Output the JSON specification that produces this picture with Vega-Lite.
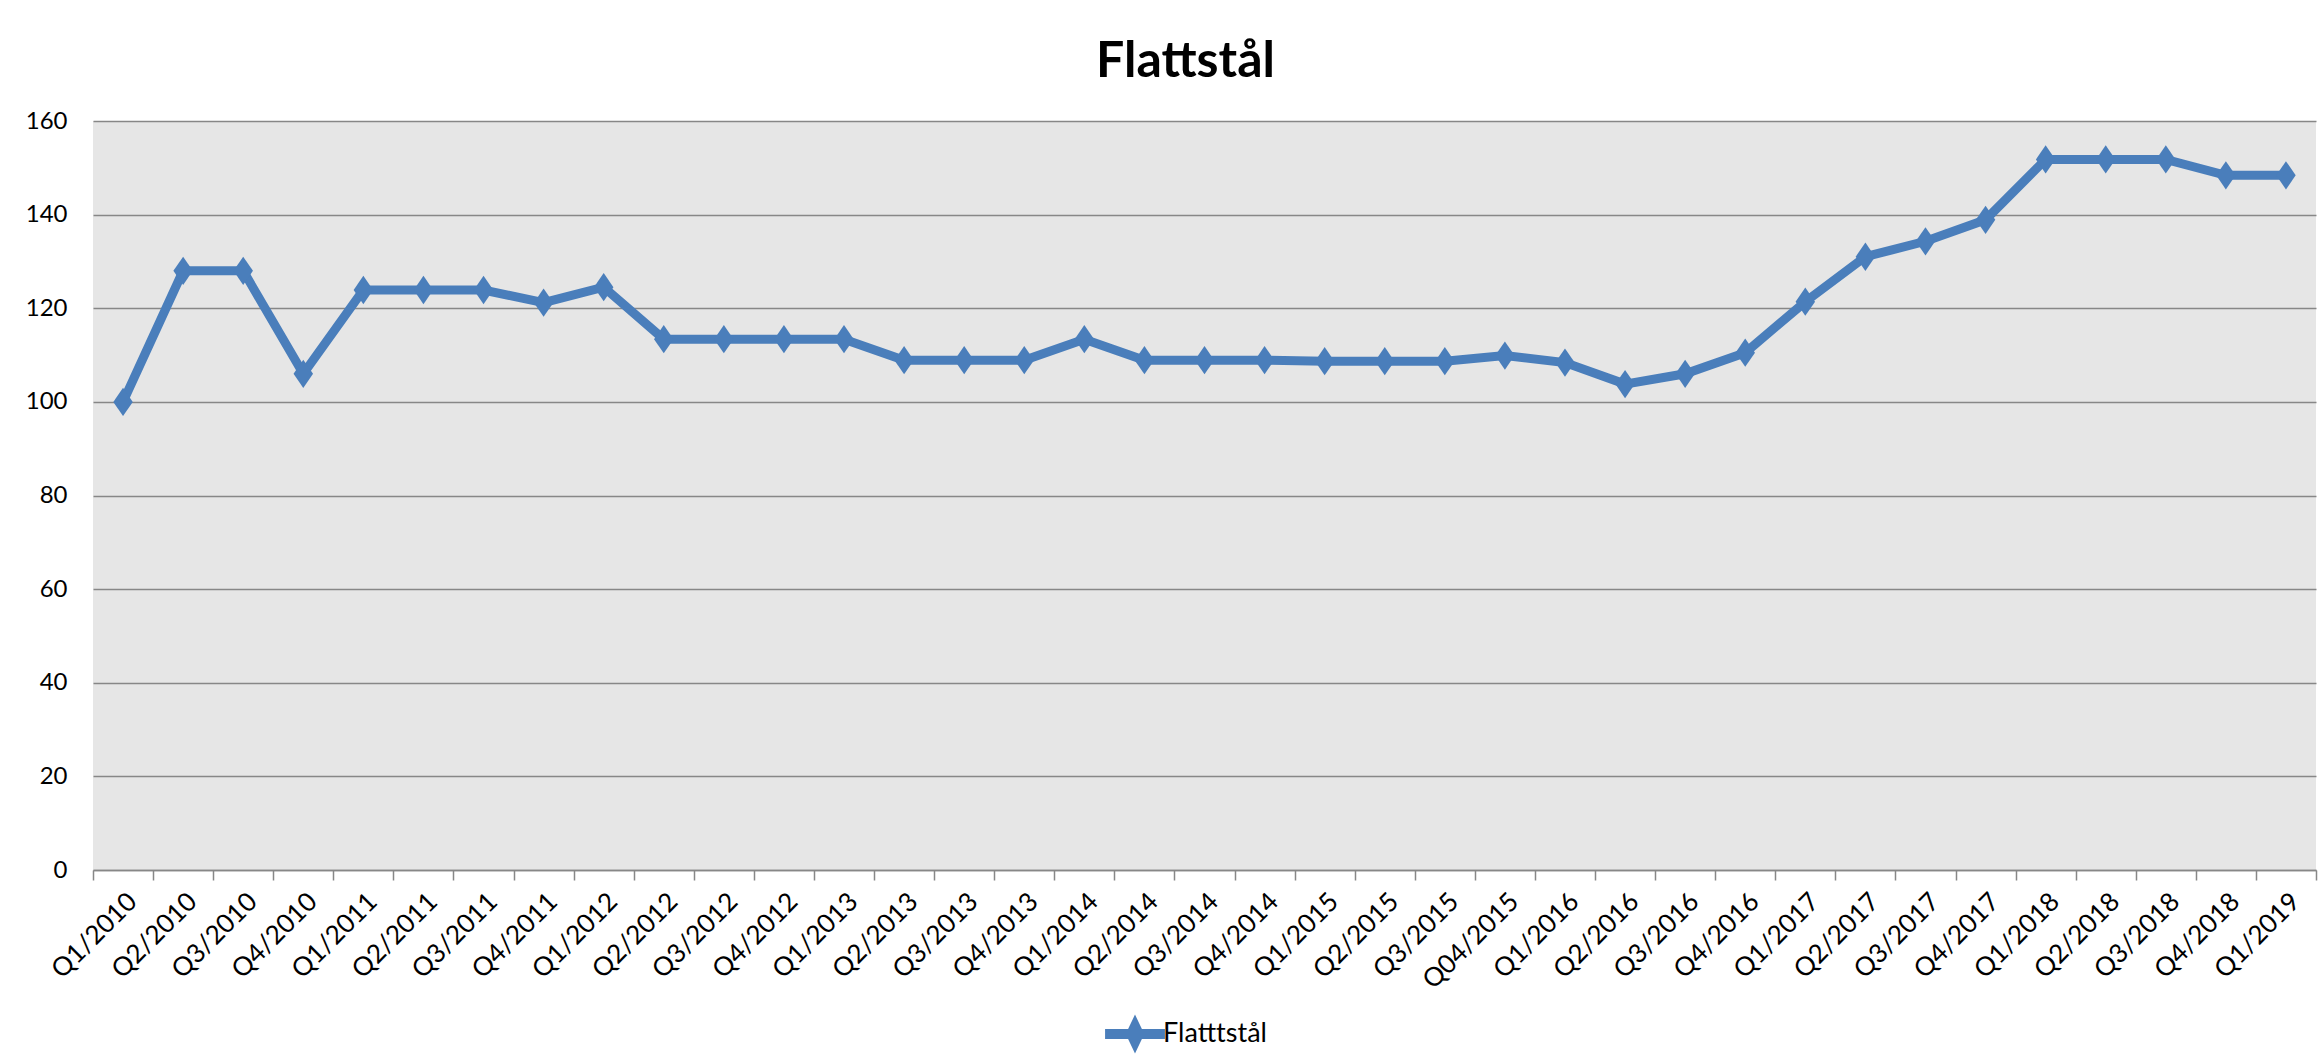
{
  "$schema": "https://vega.github.io/schema/vega-lite/v6.json",
  "autosize": {"type": "none"},
  "width": 2223,
  "height": 749,
  "padding": {"left": 93, "top": 121, "right": 7, "bottom": 192},
  "background": "white",
  "title": {"text": "Flattstål", "font": "Lato", "fontSize": 50, "fontWeight": "bold", "color": "#000000", "anchor": "middle", "dx": -19, "offset": 22},
  "config": {
    "view": {"fill": "#e6e6e6", "stroke": null},
    "axis": {"labelFont": "Lato", "labelFontSize": 24, "labelColor": "#000000", "titleFontSize": 0},
    "legend": {"labelFont": "Lato", "labelFontSize": 27, "labelColor": "#000000"}
  },
  "data": {"values": [
    {"q": "Q1/2010", "v": 100, "s": "Flatttstål"},
    {"q": "Q2/2010", "v": 128, "s": "Flatttstål"},
    {"q": "Q3/2010", "v": 128, "s": "Flatttstål"},
    {"q": "Q4/2010", "v": 106, "s": "Flatttstål"},
    {"q": "Q1/2011", "v": 123.9, "s": "Flatttstål"},
    {"q": "Q2/2011", "v": 123.9, "s": "Flatttstål"},
    {"q": "Q3/2011", "v": 123.9, "s": "Flatttstål"},
    {"q": "Q4/2011", "v": 121.2, "s": "Flatttstål"},
    {"q": "Q1/2012", "v": 124.5, "s": "Flatttstål"},
    {"q": "Q2/2012", "v": 113.4, "s": "Flatttstål"},
    {"q": "Q3/2012", "v": 113.4, "s": "Flatttstål"},
    {"q": "Q4/2012", "v": 113.4, "s": "Flatttstål"},
    {"q": "Q1/2013", "v": 113.4, "s": "Flatttstål"},
    {"q": "Q2/2013", "v": 108.9, "s": "Flatttstål"},
    {"q": "Q3/2013", "v": 108.9, "s": "Flatttstål"},
    {"q": "Q4/2013", "v": 108.9, "s": "Flatttstål"},
    {"q": "Q1/2014", "v": 113.4, "s": "Flatttstål"},
    {"q": "Q2/2014", "v": 108.9, "s": "Flatttstål"},
    {"q": "Q3/2014", "v": 108.9, "s": "Flatttstål"},
    {"q": "Q4/2014", "v": 108.9, "s": "Flatttstål"},
    {"q": "Q1/2015", "v": 108.7, "s": "Flatttstål"},
    {"q": "Q2/2015", "v": 108.7, "s": "Flatttstål"},
    {"q": "Q3/2015", "v": 108.7, "s": "Flatttstål"},
    {"q": "Q04/2015", "v": 109.9, "s": "Flatttstål"},
    {"q": "Q1/2016", "v": 108.4, "s": "Flatttstål"},
    {"q": "Q2/2016", "v": 103.8, "s": "Flatttstål"},
    {"q": "Q3/2016", "v": 106, "s": "Flatttstål"},
    {"q": "Q4/2016", "v": 110.5, "s": "Flatttstål"},
    {"q": "Q1/2017", "v": 121.4, "s": "Flatttstål"},
    {"q": "Q2/2017", "v": 131, "s": "Flatttstål"},
    {"q": "Q3/2017", "v": 134.3, "s": "Flatttstål"},
    {"q": "Q4/2017", "v": 138.9, "s": "Flatttstål"},
    {"q": "Q1/2018", "v": 151.8, "s": "Flatttstål"},
    {"q": "Q2/2018", "v": 151.8, "s": "Flatttstål"},
    {"q": "Q3/2018", "v": 151.8, "s": "Flatttstål"},
    {"q": "Q4/2018", "v": 148.4, "s": "Flatttstål"},
    {"q": "Q1/2019", "v": 148.4, "s": "Flatttstål"}
  ]},
  "encoding": {
    "x": {"field": "q", "type": "ordinal", "sort": null,
      "scale": {"type": "band", "paddingInner": 0, "paddingOuter": 0},
      "axis": {"title": null, "labelAngle": -45, "labelFontSize": 26, "tickBand": "extent", "tickSize": 10, "tickColor": "#878787", "tickWidth": 1.5, "domainColor": "#878787", "domainWidth": 1.5, "labelPadding": 8, "grid": false}},
    "y": {"field": "v", "type": "quantitative",
      "scale": {"domain": [0, 160]},
      "axis": {"title": null, "values": [0, 20, 40, 60, 80, 100, 120, 140, 160], "domain": false, "ticks": false, "labelPadding": 26, "gridColor": "#878787", "gridWidth": 1.5, "gridOpacity": 1}},
    "color": {"field": "s", "type": "nominal",
      "scale": {"range": ["#4a7ebb"]},
      "legend": {"title": null, "orient": "none", "legendX": 1018, "legendY": 889, "direction": "horizontal",
        "symbolType": "M-1.6,0L1.6,0M0,-0.42L0.2,0L0,0.42L-0.2,0Z", "symbolSize": 1400, "symbolStrokeWidth": 10, "symbolFillColor": "#4a7ebb", "symbolStrokeColor": "#4a7ebb", "labelOffset": 4}}
  },
  "layer": [
    {"mark": {"type": "line", "strokeWidth": 9}},
    {"mark": {"type": "point", "shape": "M0,-1.45L1,0L0,1.45L-1,0Z", "size": 380, "filled": true, "opacity": 1}}
  ]
}
